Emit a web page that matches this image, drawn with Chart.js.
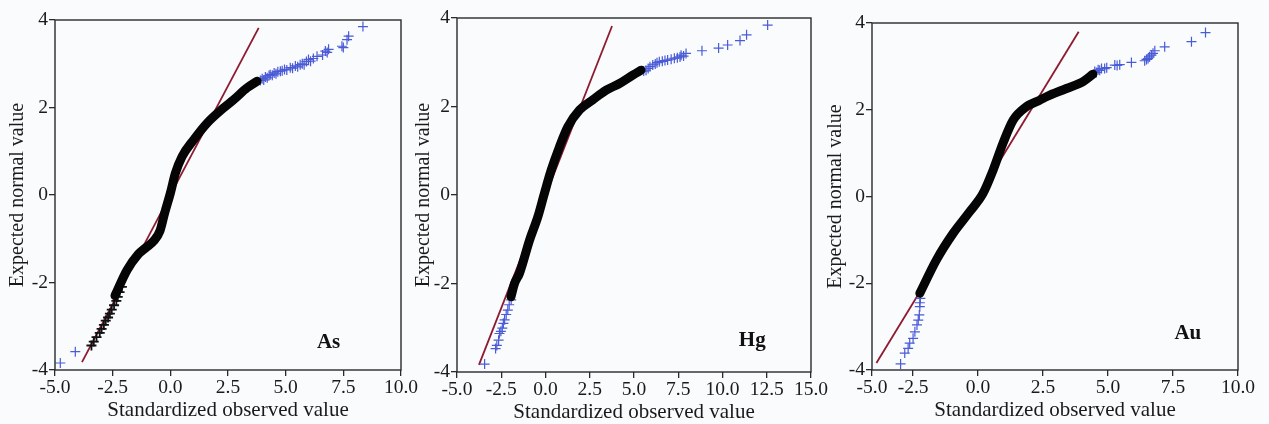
<!DOCTYPE html>
<html>
<head>
<meta charset="utf-8">
<script src="https://cdn.jsdelivr.net/npm/chart.js@4"></script>
<style>
  html, body { margin: 0; padding: 0; background: #f9fbfd; }
  body { width: 1269px; height: 424px; position: relative; overflow: hidden; }
  canvas { position: absolute; top: 0; }
</style>
</head>
<body>
<canvas id="cAs" width="420" height="424" style="left:0px"></canvas>
<canvas id="cHg" width="440" height="424" style="left:400px"></canvas>
<canvas id="cAu" width="454" height="424" style="left:815px"></canvas>
<script>
// ---- As ----
const asBandX = [-2.40, -1.88, -1.40, -1.05, -0.72, -0.45, -0.25, 0.0, 0.22, 0.51, 1.01, 1.59, 2.31, 2.75, 3.33, 3.76];
const asBandY = [-2.30, -1.72, -1.36, -1.20, -1.05, -0.82, -0.42, 0.04, 0.50, 0.88, 1.26, 1.64, 1.99, 2.18, 2.45, 2.60];
const asLowX = [-3.42, -3.32, -3.20, -3.06, -2.98, -2.88, -2.80, -2.70, -2.62, -2.54, -2.44, -2.34, -2.28, -2.20, -2.10];
const asLowY = [-3.44, -3.35, -3.25, -3.15, -3.06, -2.97, -2.87, -2.80, -2.71, -2.62, -2.52, -2.42, -2.33, -2.22, -2.10];
const asOutX = [-4.77, -4.12, 3.90, 3.98, 4.05, 4.12, 4.20, 4.28, 4.33, 4.42, 4.50, 4.58, 4.66, 4.77, 4.85, 4.95, 5.05, 5.20, 5.30, 5.42, 5.52, 5.63, 5.72, 5.80, 5.90, 5.99, 6.08, 6.20, 6.36, 6.60, 6.72, 6.80, 6.86, 7.44, 7.50, 7.66, 7.73, 8.35];
const asOutY = [-3.84, -3.58, 2.62, 2.66, 2.63, 2.70, 2.68, 2.73, 2.75, 2.74, 2.79, 2.77, 2.82, 2.83, 2.84, 2.87, 2.86, 2.91, 2.90, 2.95, 2.93, 2.98, 3.00, 2.98, 3.05, 3.10, 3.06, 3.12, 3.17, 3.20, 3.29, 3.26, 3.33, 3.40, 3.37, 3.55, 3.63, 3.85];
const asRefX = [-3.83, 3.83];
const asRefY = [-3.82, 3.82];

// ---- Hg ----
const hgBandX = [-1.95, -1.75, -1.47, -0.90, -0.43, -0.06, 0.32, 0.79, 1.26, 1.92, 2.67, 3.43, 4.18, 4.93, 5.40];
const hgBandY = [-2.30, -2.00, -1.77, -1.02, -0.49, 0.04, 0.56, 1.09, 1.54, 1.92, 2.15, 2.37, 2.52, 2.71, 2.82];
const hgOutX = [-3.44, -2.82, -2.75, -2.65, -2.60, -2.52, -2.44, -2.38, -2.31, -2.22, -2.13, -2.05, -1.94, 5.55, 5.68, 5.80, 5.90, 6.06, 6.20, 6.30, 6.43, 6.60, 6.75, 6.90, 7.10, 7.28, 7.45, 7.60, 7.66, 7.80, 7.94, 8.84, 9.78, 10.29, 10.99, 11.36, 12.55];
const hgOutY = [-3.82, -3.47, -3.40, -3.28, -3.13, -3.08, -3.01, -2.90, -2.82, -2.70, -2.60, -2.48, -2.37, 2.80, 2.82, 2.86, 2.90, 2.94, 2.96, 2.99, 3.01, 3.02, 3.04, 3.05, 3.07, 3.09, 3.10, 3.12, 3.16, 3.14, 3.20, 3.26, 3.32, 3.39, 3.49, 3.62, 3.84];
const hgRefX = [-3.76, 3.76];
const hgRefY = [-3.84, 3.82];

// ---- Au ----
const auBandX = [-2.24, -1.60, -0.96, -0.32, 0.19, 0.58, 0.96, 1.35, 1.86, 2.37, 2.63, 3.40, 4.04, 4.42];
const auBandY = [-2.23, -1.46, -0.85, -0.35, 0.07, 0.61, 1.23, 1.76, 2.07, 2.22, 2.30, 2.49, 2.65, 2.82];
const auOutX = [-2.98, -2.82, -2.69, -2.63, -2.50, -2.43, -2.35, -2.30, -2.26, -2.24, -2.24, -2.22, 4.49, 4.55, 4.62, 4.68, 4.75, 4.87, 4.95, 5.26, 5.35, 5.45, 5.90, 6.41, 6.48, 6.54, 6.60, 6.67, 6.73, 6.80, 7.18, 8.21, 8.75];
const auOutY = [-3.86, -3.61, -3.50, -3.38, -3.27, -3.12, -2.96, -2.85, -2.73, -2.54, -2.45, -2.35, 2.88, 2.86, 2.92, 2.91, 2.95, 2.95, 2.97, 3.03, 3.02, 3.04, 3.09, 3.13, 3.16, 3.18, 3.22, 3.26, 3.30, 3.36, 3.45, 3.57, 3.78];
const auRefX = [-3.91, 3.87];
const auRefY = [-3.84, 3.80];

// ticks
const yTicks = [-4, -2, 0, 2, 4];
const yTickLabels = ['-4', '-2', '0', '2', '4'];
const asXTicks = [-5, -2.5, 0, 2.5, 5, 7.5, 10];
const asXTickLabels = ['-5.0', '-2.5', '0.0', '2.5', '5.0', '7.5', '10.0'];
const hgXTicks = [-5, -2.5, 0, 2.5, 5, 7.5, 10, 12.5, 15];
const hgXTickLabels = ['-5.0', '-2.5', '0.0', '2.5', '5.0', '7.5', '10.0', '12.5', '15.0'];
const auXTicks = [-4.08, -2.5, 0, 2.5, 5, 7.5, 10];
const auXTickLabels = ['-5.0', '-2.5', '0.0', '2.5', '5.0', '7.5', '10.0'];

const SERIF = "'Liberation Serif', 'DejaVu Serif', serif";
const INK = '#1a1a1a';

function pts(xs, ys) {
    return xs.map((x, i) => ({ x: x, y: ys[i] }));
}

const frame = {
    id: 'frame',
    afterDraw(chart) {
        const a = chart.chartArea;
        const ctx = chart.ctx;
        ctx.save();
        ctx.strokeStyle = '#2a2a2a';
        ctx.lineWidth = 1.4;
        ctx.strokeRect(a.left, a.top, a.right - a.left, a.bottom - a.top);
        ctx.restore();
    }
};

const tag = {
    id: 'tag',
    afterDraw(chart, args, opts) {
        const ctx = chart.ctx;
        const x = chart.scales.x.getPixelForValue(opts.x);
        const y = chart.scales.y.getPixelForValue(opts.y);
        ctx.save();
        ctx.font = "bold 21px " + SERIF;
        ctx.fillStyle = '#111';
        ctx.textAlign = 'center';
        ctx.textBaseline = 'middle';
        ctx.fillText(opts.text, x, y);
        ctx.restore();
    }
};

function makeChart(id, p) {
    const ctx = document.querySelector(id).getContext('2d');
    return new Chart(ctx, {
        type: 'scatter',
        data: {
            datasets: [
                {
                    data: pts(p.bandX, p.bandY),
                    showLine: true,
                    borderColor: '#050505',
                    borderWidth: 9,
                    borderCapStyle: 'round',
                    borderJoinStyle: 'round',
                    cubicInterpolationMode: 'monotone',
                    pointRadius: 0
                },
                {
                    data: pts(p.lowX || [], p.lowY || []),
                    pointStyle: 'cross',
                    pointRadius: 5,
                    borderColor: '#111',
                    pointBorderWidth: 1.8,
                    backgroundColor: '#111'
                },
                {
                    data: pts(p.outX, p.outY),
                    pointStyle: 'cross',
                    pointRadius: 5,
                    borderColor: '#4a5bd6',
                    pointBorderWidth: 1.2,
                    backgroundColor: '#4a5bd6'
                },
                {
                    data: pts(p.refX, p.refY),
                    showLine: true,
                    borderColor: '#8e1a30',
                    borderWidth: 1.8,
                    pointRadius: 0
                }
            ]
        },
        options: {
            responsive: false,
            animation: false,
            events: [],
            layout: { padding: { top: p.top, right: p.right, left: 0, bottom: 0 } },
            plugins: {
                legend: { display: false },
                tooltip: { enabled: false },
                tag: { text: p.name, x: p.tagX, y: p.tagY }
            },
            scales: {
                x: {
                    type: 'linear',
                    min: p.xTicks[0],
                    max: p.xTicks[p.xTicks.length - 1],
                    afterBuildTicks: (s) => { s.ticks = p.xTicks.map(v => ({ value: v })); },
                    afterFit: (s) => { s.height = p.xh; },
                    border: { display: false },
                    grid: { drawOnChartArea: false, drawTicks: true, tickLength: 6, color: '#2a2a2a', lineWidth: 1.3 },
                    ticks: {
                        autoSkip: false,
                        maxRotation: 0,
                        padding: 0,
                        color: INK,
                        font: { family: SERIF, size: 19.5 },
                        callback: (v, i) => p.xTickLabels[i]
                    },
                    title: {
                        display: true,
                        text: 'Standardized observed value',
                        color: INK,
                        font: { family: SERIF, size: 21 },
                        padding: { top: 0, bottom: p.xtPad }
                    }
                },
                y: {
                    type: 'linear',
                    min: -4,
                    max: 4,
                    afterBuildTicks: (s) => { s.ticks = yTicks.map(v => ({ value: v })); },
                    afterFit: (s) => { s.width = p.yw; },
                    border: { display: false },
                    grid: { drawOnChartArea: false, drawTicks: true, tickLength: 6, color: '#2a2a2a', lineWidth: 1.3 },
                    ticks: {
                        padding: 1,
                        color: INK,
                        font: { family: SERIF, size: 19.5 },
                        callback: (v, i) => yTickLabels[i]
                    },
                    title: {
                        display: true,
                        text: 'Expected normal value',
                        color: INK,
                        font: { family: SERIF, size: 20 },
                        padding: { top: p.ytPad, bottom: 0 }
                    }
                }
            }
        },
        plugins: [frame, tag]
    });
}

makeChart('#cAs', {
    name: 'As', tagX: 6.86, tagY: -3.37,
    bandX: asBandX, bandY: asBandY, lowX: asLowX, lowY: asLowY,
    outX: asOutX, outY: asOutY, refX: asRefX, refY: asRefY,
    xTicks: asXTicks, xTickLabels: asXTickLabels,
    top: 20, right: 19, yw: 55, xh: 54, ytPad: 6, xtPad: 1
});

makeChart('#cHg', {
    name: 'Hg', tagX: 11.68, tagY: -3.28,
    bandX: hgBandX, bandY: hgBandY,
    outX: hgOutX, outY: hgOutY, refX: hgRefX, refY: hgRefY,
    xTicks: hgXTicks, xTickLabels: hgXTickLabels,
    top: 18, right: 29, yw: 57, xh: 52, ytPad: 12, xtPad: -1
});

makeChart('#cAu', {
    name: 'Au', tagX: 8.07, tagY: -3.15,
    bandX: auBandX, bandY: auBandY,
    outX: auOutX, outY: auOutY, refX: auRefX, refY: auRefY,
    xTicks: auXTicks, xTickLabels: auXTickLabels,
    top: 23, right: 31, yw: 57, xh: 54, ytPad: 9, xtPad: 1
});
</script>
</body>
</html>
